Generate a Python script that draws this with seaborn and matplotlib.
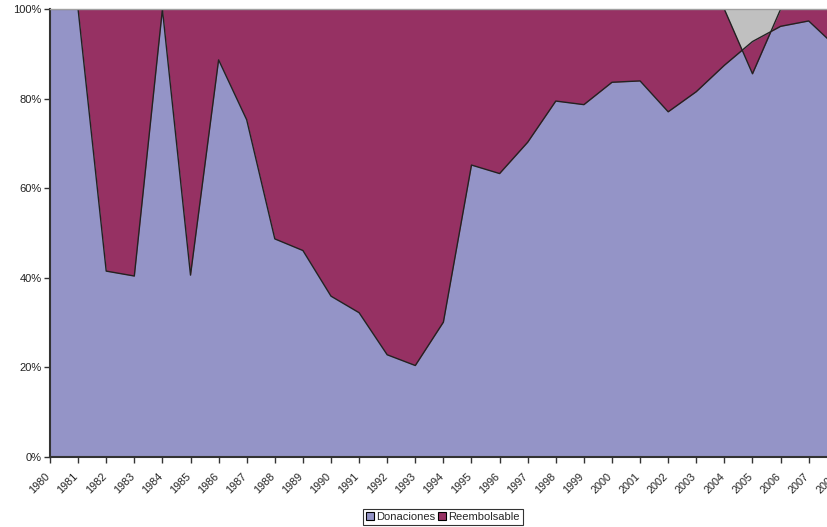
"""100% stacked area: Donaciones vs Reembolsable, 1980-2008"""
import matplotlib

matplotlib.use("Agg")
import matplotlib.pyplot as plt
import matplotlib.patches as mpatches
import matplotlib.transforms as mtransforms
import pandas as pd
import seaborn as sns

years = list(range(1980, 2009))
# share of each series (percent of the sum of absolute values, as the source does)
donaciones = [100, 100, 41.5, 40.4, 100, 40.6, 88.7, 75.3, 48.7, 46.1,
              35.9, 32.2, 22.8, 20.4, 30.1, 65.2, 63.3, 70.3, 79.5, 78.7,
              83.7, 84.0, 77.1, 81.6, 87.5, 92.8, 96.2, 97.4, 91.5]
reembolsable = [0, 0, 58.5, 59.6, 0, 59.4, 11.3, 24.7, 51.3, 53.9,
                64.1, 67.8, 77.2, 79.6, 69.9, 34.8, 36.7, 29.7, 20.5, 21.3,
                16.3, 16.0, 22.9, 18.4, 12.5, -7.2, 3.8, 2.6, 8.5]

COL_DON = "#9494C7"
COL_REE = "#963163"

df = pd.DataFrame({"year": years, "Donaciones": donaciones, "Reembolsable": reembolsable})
df["top"] = df["Donaciones"] + df["Reembolsable"]

sns.set_theme(style="white")
plt.rcParams["font.family"] = ["Liberation Sans", "DejaVu Sans"]

fig = plt.figure(figsize=(8.28, 5.27), dpi=100)
ax = fig.add_axes([0.0604, 0.1332, 0.9502, 0.8491])
ax.set_facecolor("#C0C0C0")

ax.fill_between(df["year"], 0, df["Donaciones"], color=COL_DON, lw=0)
ax.fill_between(df["year"], df["Donaciones"], df["top"], color=COL_REE, lw=0)
sns.lineplot(data=df, x="year", y="Donaciones", ax=ax, color="#222222", lw=1)
sns.lineplot(data=df, x="year", y="top", ax=ax, color="#222222", lw=1)

ax.set_xlim(1980, 2008)
ax.set_ylim(0, 100)
ax.set_xticks(years)
ax.set_xticklabels([str(y) for y in years], rotation=45, ha="right",
                   rotation_mode="anchor", fontsize=7.8, color="#222222")
ax.set_yticks(range(0, 101, 20))
ax.set_yticklabels([f"{v}%" for v in range(0, 101, 20)], fontsize=8, color="#222222")
ax.set_xlabel("")
ax.set_ylabel("")
ax.tick_params(axis="both", direction="out", length=4, width=1, color="#333333",
               bottom=True, left=True, pad=2)

# shift year labels a little left/down like the original
shift = mtransforms.ScaledTranslation(-0.05, -0.06, fig.dpi_scale_trans)
for lbl in ax.get_xticklabels():
    lbl.set_transform(lbl.get_transform() + shift)

for side in ["left", "bottom"]:
    ax.spines[side].set_color("#333333")
    ax.spines[side].set_linewidth(1.5)
ax.spines["top"].set_color("#A0A0A0")
ax.spines["top"].set_linewidth(1)
ax.spines["right"].set_visible(False)

handles = [
    mpatches.Patch(facecolor=COL_DON, edgecolor="black", lw=0.8, label="Donaciones"),
    mpatches.Patch(facecolor=COL_REE, edgecolor="black", lw=0.8, label="Reembolsable"),
]
leg = fig.legend(handles=handles, loc="center", bbox_to_anchor=(443 / 828, 1 - 517 / 527),
                 ncol=2, fontsize=8, frameon=True, fancybox=False, handlelength=0.7,
                 handleheight=0.7, handletextpad=0.2, columnspacing=0.3,
                 borderpad=0.25, borderaxespad=0)
leg.get_frame().set_edgecolor("black")
leg.get_frame().set_linewidth(0.8)

fig.savefig("out.png", dpi=100)
